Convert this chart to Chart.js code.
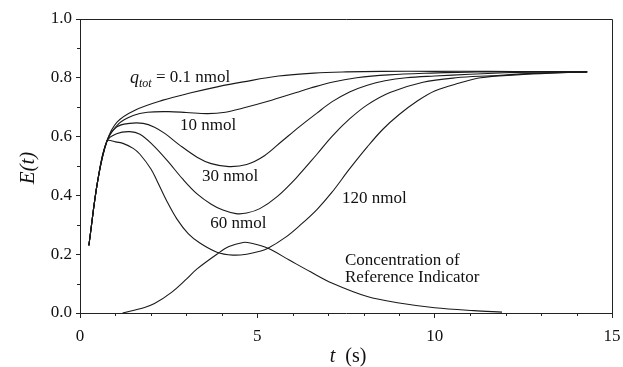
<!DOCTYPE html>
<html lang="en">
<head>
  <meta charset="UTF-8">
  <title>E(t) vs t</title>
  <script src="https://cdn.jsdelivr.net/npm/chart.js"></script>
  <style>
    body {
      margin: 0;
      background: #fff;
    }
    canvas {
      display: block;
    }
  </style>
</head>
<body>
<canvas id="eChart" width="623" height="367"></canvas>

<script>
const SERIF = "'Liberation Serif', 'Times New Roman', serif";

// E(t) curves for each total dose, times in seconds
const t01 = [0.25, 0.5, 0.76, 1.05, 1.55, 2.34, 3.1, 3.9, 4.6, 5.6, 6.6, 7.5, 8.5, 10, 11.5, 13, 14.3];
const e01 = [0.23, 0.45, 0.585, 0.65, 0.69, 0.724, 0.748, 0.77, 0.786, 0.806, 0.816, 0.82, 0.822, 0.822, 0.822, 0.821, 0.82];

const t10 = [0.25, 0.5, 0.76, 1.1, 1.5, 1.9, 2.5, 3.0, 3.6, 4.1, 4.6, 5.3, 6.1, 6.5, 7.1, 7.8, 8.7, 9.9, 11.2, 12.5, 14.3];
const e10 = [0.23, 0.45, 0.585, 0.645, 0.672, 0.683, 0.685, 0.682, 0.678, 0.683, 0.697, 0.72, 0.75, 0.765, 0.785, 0.80, 0.81, 0.816, 0.82, 0.82, 0.82];

const t30 = [0.25, 0.5, 0.76, 1.04, 1.4, 1.78, 2.1, 2.4, 2.8, 3.3, 3.7, 4.2, 4.7, 5.2, 5.7, 6.2, 6.68, 7.1, 7.6, 8.1, 8.6, 9.2, 10.0, 11.0, 12.0, 13.0, 14.3];
const e30 = [0.23, 0.45, 0.585, 0.633, 0.645, 0.645, 0.632, 0.61, 0.572, 0.53, 0.508, 0.498, 0.505, 0.535, 0.585, 0.635, 0.68, 0.718, 0.752, 0.775, 0.79, 0.80, 0.806, 0.812, 0.817, 0.82, 0.82];

const t60 = [0.25, 0.5, 0.76, 1.03, 1.4, 1.69, 2.05, 2.45, 2.9, 3.3, 3.7, 4.03, 4.4, 4.7, 5.07, 5.55, 6.1, 6.68, 7.1, 7.6, 8.1, 8.74, 9.67, 10.6, 11.6, 12.8, 14.3];
const e60 = [0.23, 0.45, 0.585, 0.61, 0.617, 0.608, 0.572, 0.52, 0.455, 0.405, 0.37, 0.35, 0.338, 0.34, 0.355, 0.395, 0.46, 0.54, 0.60, 0.66, 0.708, 0.75, 0.785, 0.80, 0.807, 0.815, 0.82];

const t120 = [0.25, 0.5, 0.76, 1.0, 1.21, 1.5, 1.69, 2.0, 2.17, 2.45, 2.73, 3.05, 3.38, 3.86, 4.31, 4.7, 5.07, 5.3, 5.8, 6.2, 6.68, 7.1, 7.6, 8.1, 8.54, 9.0, 9.5, 10.0, 10.7, 11.3, 12.3, 13.25, 14.3];
const e120 = [0.23, 0.45, 0.585, 0.582, 0.577, 0.56, 0.54, 0.49, 0.45, 0.38, 0.32, 0.27, 0.238, 0.207, 0.197, 0.2, 0.21, 0.22, 0.258, 0.298, 0.352, 0.41, 0.49, 0.565, 0.625, 0.675, 0.72, 0.755, 0.782, 0.80, 0.81, 0.816, 0.82];

// reference indicator concentration
const tRef = [1.2, 1.8, 2.1, 2.6, 3.0, 3.3, 3.86, 4.2, 4.6, 4.8, 5.3, 5.9, 6.5, 7.1, 8.1, 9.0, 10.0, 11.1, 11.9];
const eRef = [0, 0.018, 0.032, 0.072, 0.115, 0.15, 0.2, 0.226, 0.24, 0.238, 0.22, 0.18, 0.14, 0.102, 0.056, 0.034, 0.018, 0.008, 0.003];

const xTicks = [0, 5, 10, 15];
const yTicks = [0.0, 0.2, 0.4, 0.6, 0.8, 1.0];

// curve labels, anchored at [t, E] (left edge, vertical middle)
const curveLabels = [
  { text: "10 nmol", at: [2.82, 0.636] },
  { text: "30 nmol", at: [3.44, 0.463] },
  { text: "60 nmol", at: [3.67, 0.306] },
  { text: "120 nmol", at: [7.39, 0.391] },
  { text: "Concentration of", at: [7.47, 0.177] },
  { text: "Reference Indicator", at: [7.47, 0.119] }
];
const qLabelAt = [1.41, 0.80];

function pts(ts, es) {
  return ts.map((t, i) => ({ x: t, y: es[i] }));
}

function line(ts, es) {
  return {
    data: pts(ts, es),
    borderColor: "#1a1a1a",
    borderWidth: 1.1,
    pointRadius: 0,
    fill: false,
    tension: 0.35
  };
}

// box, minor ticks and text drawn straight on the canvas
const extras = {
  id: "extras",
  afterDraw(chart) {
    const { ctx, chartArea: a, scales: { x, y } } = chart;
    ctx.save();
    ctx.strokeStyle = "#222";
    ctx.lineWidth = 1;
    ctx.beginPath();
    ctx.moveTo(a.left, a.top + 0.5);
    ctx.lineTo(a.right + 0.5, a.top + 0.5);
    ctx.lineTo(a.right + 0.5, a.bottom);
    ctx.stroke();

    // minor ticks
    ctx.beginPath();
    for (let v = 1; v < 15; v++) {
      if (v % 5 === 0) continue;
      const px = Math.round(x.getPixelForValue(v)) + 0.5;
      ctx.moveTo(px, a.bottom);
      ctx.lineTo(px, a.bottom + 3);
    }
    for (let v = 0.1; v < 1; v += 0.2) {
      const py = Math.round(y.getPixelForValue(v)) + 0.5;
      ctx.moveTo(a.left, py);
      ctx.lineTo(a.left - 3, py);
    }
    ctx.stroke();

    ctx.fillStyle = "#111";
    ctx.textBaseline = "middle";
    ctx.textAlign = "left";
    ctx.font = "17px " + SERIF;
    curveLabels.forEach(l => {
      ctx.fillText(l.text, x.getPixelForValue(l.at[0]), y.getPixelForValue(l.at[1]));
    });

    // q_tot = 0.1 nmol
    let qx = x.getPixelForValue(qLabelAt[0]);
    const qy = y.getPixelForValue(qLabelAt[1]);
    ctx.font = "italic 18px " + SERIF;
    ctx.fillText("q", qx, qy);
    qx += ctx.measureText("q").width;
    ctx.font = "italic 12px " + SERIF;
    ctx.fillText("tot", qx, qy + 6);
    qx += ctx.measureText("tot").width;
    ctx.font = "17px " + SERIF;
    ctx.fillText(" = 0.1 nmol", qx, qy);

    // axis titles
    ctx.font = "italic 20px " + SERIF;
    const tw = ctx.measureText("t").width;
    ctx.font = "20px " + SERIF;
    const sw = ctx.measureText("  (s)").width;
    let tx = (a.left + a.right) / 2 - (tw + sw) / 2 + 2;
    ctx.font = "italic 20px " + SERIF;
    ctx.fillText("t", tx, 357);
    ctx.font = "20px " + SERIF;
    ctx.fillText("  (s)", tx + tw, 357);

    ctx.translate(28, 168);
    ctx.rotate(-Math.PI / 2);
    ctx.textAlign = "center";
    ctx.font = "italic 21px " + SERIF;
    ctx.fillText("E(t)", 0, 0);
    ctx.restore();
  }
};

new Chart(document.getElementById("eChart"), {
  type: "line",
  data: {
    datasets: [
      line(t01, e01),
      line(t10, e10),
      line(t30, e30),
      line(t60, e60),
      line(t120, e120),
      line(tRef, eRef)
    ]
  },
  options: {
    responsive: false,
    animation: false,
    layout: { padding: { top: 19, right: 11, left: 0, bottom: 0 } },
    plugins: {
      legend: { display: false },
      tooltip: { enabled: false }
    },
    scales: {
      x: {
        type: "linear",
        min: 0,
        max: 15,
        afterFit: s => {
          s.height = 54;
          s.paddingLeft = 0;
          s.paddingRight = 0;
        },
        afterBuildTicks: s => { s.ticks = xTicks.map(v => ({ value: v })); },
        ticks: {
          color: "#111",
          font: { family: SERIF, size: 17 },
          padding: 8,
          maxRotation: 0
        },
        grid: {
          drawOnChartArea: false,
          tickLength: 5,
          color: "#222"
        },
        border: { color: "#222", width: 1 }
      },
      y: {
        min: 0,
        max: 1,
        afterFit: s => {
          s.width = 80;
          s.paddingTop = 0;
          s.paddingBottom = 0;
        },
        afterBuildTicks: s => { s.ticks = yTicks.map(v => ({ value: v })); },
        ticks: {
          color: "#111",
          font: { family: SERIF, size: 17 },
          padding: 4,
          callback: v => v.toFixed(1)
        },
        grid: {
          drawOnChartArea: false,
          tickLength: 4,
          color: "#222"
        },
        border: { color: "#222", width: 1 }
      }
    }
  },
  plugins: [extras]
});
</script>
</body>
</html>
